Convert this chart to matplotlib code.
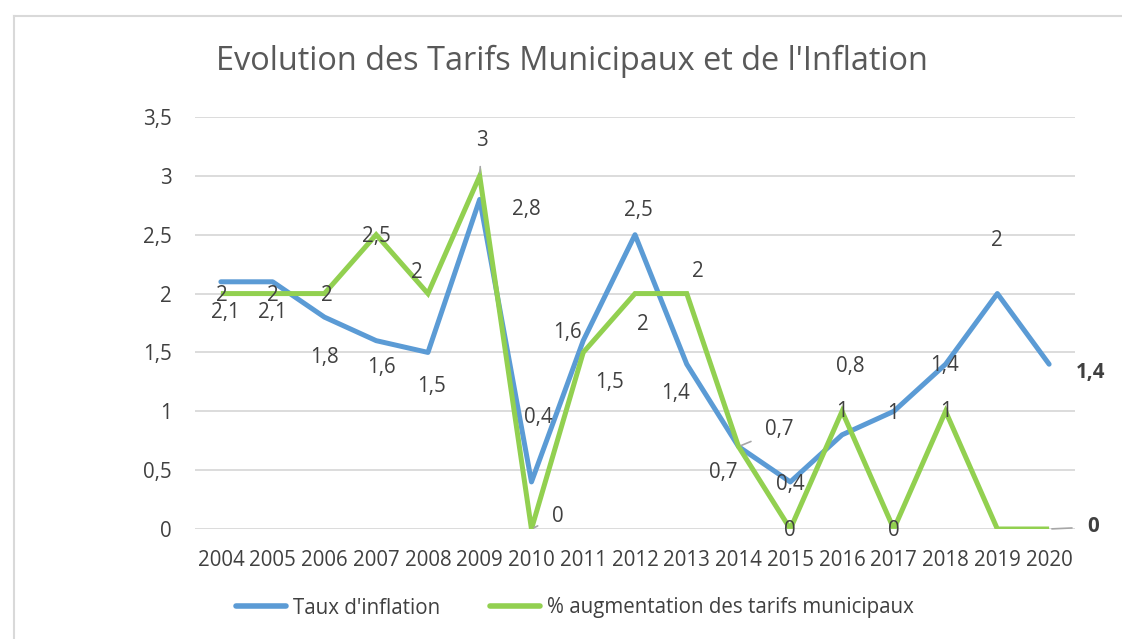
import matplotlib
matplotlib.use("Agg")
import matplotlib.pyplot as plt
from matplotlib.lines import Line2D

plt.rcParams['font.family'] = ['Open Sans', 'DejaVu Sans']

years = ['2004', '2005', '2006', '2007', '2008', '2009', '2010', '2011', '2012',
         '2013', '2014', '2015', '2016', '2017', '2018', '2019', '2020']
inflation = [2.1, 2.1, 1.8, 1.6, 1.5, 2.8, 0.4, 1.6, 2.5, 1.4, 0.7, 0.4, 0.8, 1, 1.4, 2, 1.4]
tarifs = [2, 2, 2, 2.5, 2, 3, 0, 1.5, 2, 2, 0.7, 0, 1, 0, 1, 0, 0]
yticks = [0, 0.5, 1, 1.5, 2, 2.5, 3, 3.5]

# label offsets in pixels (dx, dy), None = no label
off_blue = [(4, -31), (0, -31), (0, -40), (5, -27), (4, -34), (47, -10), (7, 64),
            (-16, 8), (3, 24), (-11, -29), (-15, -26), (0, -3), (8, 68), (-1, -2),
            (-1, -1), (0, 53), (41, -8)]
off_green = [(1, -2), (0, -2), (2, -2), (0, -2), (-11, 21), (2, 35), (26, 13),
             (26, -30), (8, -31), (11, 22), (41, 17), (0, -1), (0, 0), (0, -1),
             (0, 0), None, (44, 2)]
leader_green = {5, 6, 10, 16}

blue = '#5B9BD5'
green = '#92D050'
txt = '#404040'
fs = 14.8

def fmt(v):
    return f"{v:g}".replace('.', ',')

fig = plt.figure(figsize=(11.22, 6.39), dpi=100)
ax = fig.add_axes([195 / 1122, 1 - 529 / 639, 880 / 1122, 412 / 639])

x = list(range(len(years)))
ax.plot(x, inflation, color=blue, lw=3.6, solid_capstyle='round', solid_joinstyle='round', zorder=3)
ax.plot(x, tarifs, color=green, lw=3.6, solid_capstyle='butt', solid_joinstyle='miter', zorder=4)

ax.set_xlim(-0.5, len(years) - 0.5)
ax.set_ylim(0, 3.5)
ax.set_yticks(yticks)
ax.set_yticklabels([fmt(v) for v in yticks])
ax.set_xticks(x)
ax.set_xticklabels(years)
ax.grid(axis='y', color='#D9D9D9', lw=1.3)
ax.set_axisbelow(True)
for s in ax.spines.values():
    s.set_visible(False)
ax.tick_params(length=0, labelsize=fs, colors=txt)
ax.tick_params(axis='x', pad=15)
ax.tick_params(axis='y', pad=17)

for i, v in enumerate(inflation):
    dx, dy = off_blue[i]
    bold = i == len(inflation) - 1
    ax.annotate(fmt(v), (i, v), xytext=(dx, dy), textcoords='offset pixels',
                ha='center', va='center', fontsize=fs, color=txt,
                fontweight='bold' if bold else 'normal', zorder=6)

for i, v in enumerate(tarifs):
    if off_green[i] is None:
        continue
    dx, dy = off_green[i]
    bold = i == len(tarifs) - 1
    kw = {}
    if i in leader_green:
        kw['arrowprops'] = dict(arrowstyle='-', color='#A6A6A6', lw=1.2,
                                shrinkA=9, shrinkB=2)
    ax.annotate(fmt(v), (i, v), xytext=(dx, dy), textcoords='offset pixels',
                ha='center', va='center', fontsize=fs, color=txt,
                fontweight='bold' if bold else 'normal', zorder=6, **kw)

fig.text(572 / 1122, 1 - 61 / 639, "Evolution des Tarifs Municipaux et de l'Inflation",
         ha='center', va='center', fontsize=23.4, color='#595959')

handles = [Line2D([], [], color=blue, lw=4, solid_capstyle='round'),
           Line2D([], [], color=green, lw=4, solid_capstyle='round')]
fig.legend(handles, ["Taux d'inflation", "% augmentation des tarifs municipaux"],
           loc='center', bbox_to_anchor=(575 / 1122, 1 - 608 / 639), ncol=2,
           frameon=False, fontsize=fs, handlelength=2.45, handletextpad=0.35,
           columnspacing=2.4, labelcolor=txt)

# outer chart frame
fig.add_artist(Line2D([14 / 1122, 1], [1 - 16 / 639, 1 - 16 / 639],
                      transform=fig.transFigure, color='#D9D9D9', lw=1.5))
fig.add_artist(Line2D([14 / 1122, 14 / 1122], [0, 1 - 16 / 639],
                      transform=fig.transFigure, color='#D9D9D9', lw=1.5))

fig.savefig('out.png', dpi=100, facecolor='white')
